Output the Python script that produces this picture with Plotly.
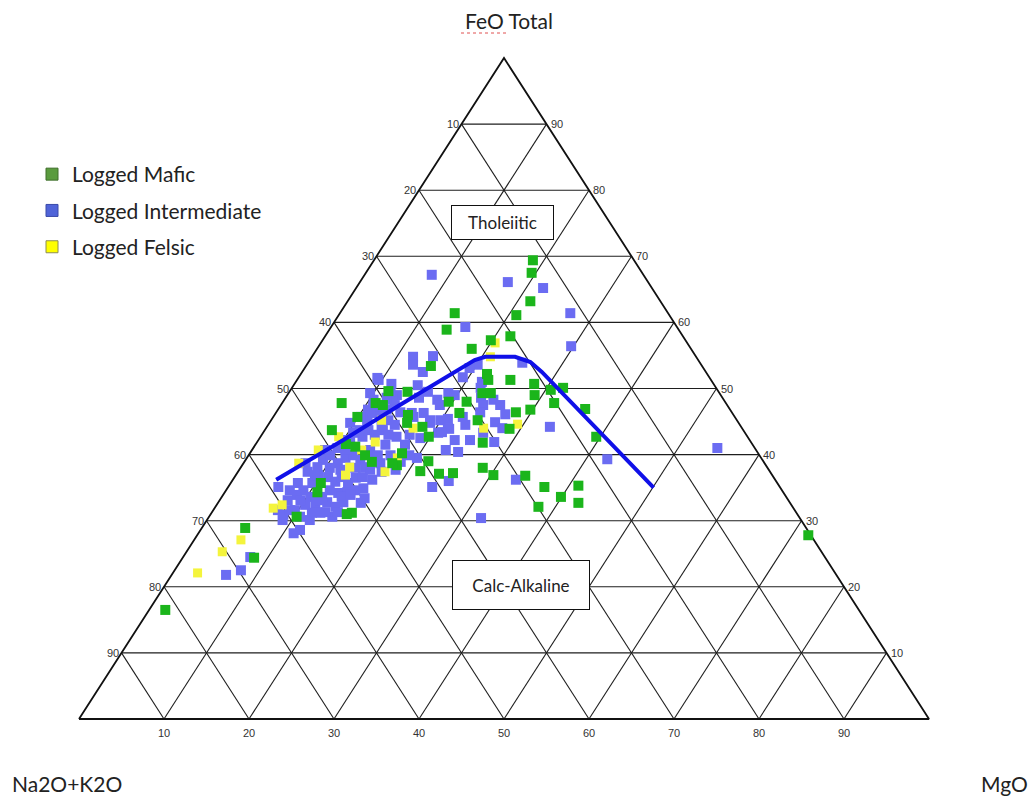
import plotly.graph_objects as go

# ---------------------------------------------------------------
# AFM samples: FeO(total) and MgO as % of the A+F+M sum
# (Na2O+K2O is the remainder to 100)
# ---------------------------------------------------------------
mafic_feo = [69.4, 67.5, 63.2, 61.1, 61.4, 58.9, 57.3, 57.9, 56.0, 53.4,
             52.2, 51.3, 51.3, 50.7, 49.0, 49.8, 50.1, 47.8, 48.0, 48.0,
             49.3, 46.4, 46.8, 46.3, 43.9, 46.9, 42.7, 38.0, 36.9, 36.8,
             35.1, 33.6, 35.3, 32.7, 32.1, 49.3, 41.8, 46.0, 44.2, 44.8,
             42.7, 45.2, 39.0, 37.5, 37.1, 37.2, 40.2, 38.4, 47.8, 47.8,
             47.5, 49.6, 49.5, 43.7, 45.7, 41.6, 41.2, 38.9, 35.7, 34.3,
             31.2, 31.0, 30.6, 38.7, 28.9, 24.4, 16.5, 27.8, 39.9]
mafic_mgo = [18.7, 19.5, 21.5, 20.9, 13.5, 13.8, 19.8, 21.8, 18.2, 14.7,
             21.9, 22.5, 25.1, 28.2, 29.1, 30.6, 31.9, 32.0, 19.5, 21.6,
             22.8, 28.2, 29.7, 21.6, 28.7, 36.1, 39.5, 28.5, 30.3, 34.1,
             37.2, 39.9, 41.1, 42.4, 38.0, 23.8, 26.6, 15.7, 18.3, 16.2,
             19.8, 24.3, 21.6, 21.4, 23.8, 25.4, 17.9, 18.2, 7.0, 11.0,
             12.0, 11.6, 13.9, 7.9, 9.9, 10.6, 11.9, 15.0, 10.6, 10.9,
             16.5, 16.0, 10.3, 17.5, 5.1, 8.4, 1.9, 71.9, 13.7]

inter_feo = [67.2, 66.1, 65.2, 61.4, 56.4, 59.3, 54.9, 54.8, 52.5, 51.7,
             53.6, 50.1, 48.6, 47.5, 46.4, 46.1, 53.9, 48.3, 44.9, 44.0,
             44.2, 39.3, 36.2, 41.0, 30.4, 43.3, 41.9, 44.5, 45.7, 45.4,
             43.9, 43.3, 44.8, 46.3, 45.7, 42.5, 40.7, 40.4, 36.0, 35.1,
             38.9, 39.5, 53.6, 51.3, 50.7, 49.0, 50.5, 49.5, 49.3, 53.1,
             51.0, 46.8, 45.2, 46.3, 45.2, 45.2, 44.0, 45.5, 44.2, 43.7,
             43.0, 42.7, 43.4, 48.3, 48.6, 47.5, 46.4, 49.3, 49.3, 48.3,
             48.3, 51.6, 48.6, 47.2, 45.7, 44.8, 41.0, 42.2, 43.3, 42.7,
             43.7, 43.0, 44.2, 43.0, 46.3, 45.7, 46.8, 46.8, 39.2, 39.9,
             38.7, 39.5, 39.9, 39.2, 38.1, 39.6, 38.7, 37.4, 39.9, 38.7,
             37.4, 38.1, 36.9, 36.6, 35.9, 36.6, 35.7, 36.5, 36.6, 36.2,
             34.6, 34.2, 34.3, 34.6, 34.9, 35.7, 34.6, 33.9, 35.1, 35.7,
             32.8, 32.1, 32.8, 32.4, 31.2, 31.2, 32.7, 31.6, 30.9, 31.6,
             32.4, 30.6, 33.6, 28.1, 28.6, 24.5, 22.5, 21.8,
             33.1, 33.1, 33.6, 33.6, 31.6, 30.6, 30.1, 31.3, 31.3, 34.6,
             36.9, 37.7, 38.0, 40.7, 40.7, 40.7, 41.5, 44.5, 43.7, 42.2,
             38.0, 33.1, 33.9, 33.4, 37.7, 39.9, 37.7, 41.5, 39.9, 42.2,
             42.2, 47.5, 49.0, 47.5, 30.1]
inter_mgo = [7.9, 17.4, 22.0, 27.1, 29.7, 15.8, 14.2, 11.9, 14.2, 19.3,
             20.1, 22.2, 23.0, 23.8, 24.0, 27.1, 25.2, 24.6, 26.5, 27.8,
             33.3, 42.5, 33.3, 54.6, 32.1, 25.9, 27.9, 23.2, 22.3, 20.7,
             21.6, 20.6, 18.9, 17.4, 16.5, 18.9, 22.8, 24.4, 25.5, 24.0,
             18.4, 20.0, 12.5, 9.6, 11.4, 12.9, 14.6, 16.3, 18.8, 19.4,
             21.9, 11.7, 13.8, 16.0, 18.7, 19.9, 21.4, 11.2, 11.8, 13.9,
             17.4, 16.0, 21.0, 18.0, 15.7, 13.4, 14.6, 12.0, 9.6, 10.5,
             12.7, 9.3, 11.9, 11.0, 10.3, 9.5, 9.9, 10.4, 10.6, 12.0,
             12.2, 13.3, 13.5, 14.9, 11.4, 12.6, 12.8, 10.6, 9.1, 9.6,
             11.1, 11.6, 12.3, 13.5, 14.6, 14.7, 16.1, 16.9, 16.7, 7.3,
             8.2, 9.0, 9.7, 11.0, 12.2, 12.6, 13.8, 14.3, 15.1, 16.4,
             12.2, 13.4, 14.4, 15.2, 16.0, 7.9, 9.1, 8.7, 5.9, 9.6,
             12.8, 14.1, 14.7, 11.6, 12.8, 11.8, 16.8, 7.6, 8.6, 9.6,
             10.4, 14.5, 14.1, 11.2, 11.7, 7.9, 7.8, 6.4,
             8.0, 9.5, 10.4, 11.8, 9.0, 10.7, 12.1, 13.3, 14.8, 7.5,
             9.3, 11.9, 13.5, 11.0, 8.6, 13.9, 15.3, 14.9, 11.2, 10.8,
             10.5, 11.8, 15.0, 16.9, 15.4, 15.2, 18.4, 17.6, 18.9, 23.1,
             24.9, 18.7, 19.7, 25.8, 8.9]

felsic_feo = [41.9, 40.7, 38.1, 36.9, 40.7, 38.7, 45.2, 37.4, 31.9, 44.0,
              42.7, 56.9, 54.8, 44.6, 44.0, 39.5, 27.1, 25.3, 22.1, 32.4]
felsic_mgo = [13.9, 12.9, 12.8, 12.9, 7.8, 6.5, 13.0, 17.3, 6.9, 17.3,
              9.2, 20.5, 21.0, 29.3, 25.6, 17.7, 5.5, 4.2, 2.9, 7.7]

# Tholeiitic / calc-alkaline boundary
divider_feo = [36.2, 42.2, 47.5, 52.2, 54.3, 54.8, 54.8, 54.0, 52.5, 35.0]
divider_mgo = [5.1, 10.0, 14.0, 17.6, 19.4, 20.4, 23.9, 26.1, 28.2, 50.1]

tick_values = [10, 20, 30, 40, 50, 60, 70, 80, 90]

# ---------------------------------------------------------------
# Page geometry (pixels) for the triangle
# ---------------------------------------------------------------
W, H = 1033, 802
LEFT_PX, BASE_PX = 79, 719          # Na2O+K2O corner
PX_PER_X, PX_PER_Y = 8.5, 6.61      # pixels per percent along x / height

GREEN = "#1bb51b"
BLUE = "#6b6cf2"
YELLOW = "#f4f43c"
FONT_TEXT = "Lato"
FONT_TICK = "Liberation Sans"


def to_xy(feo, mgo):
    """Ternary (FeO, MgO) -> planar coordinates (x along the base, y = FeO)."""
    xs = [m + f / 2.0 for f, m in zip(feo, mgo)]
    return xs, list(feo)


def alkalis(feo, mgo):
    return [round(100 - f - m, 1) for f, m in zip(feo, mgo)]


def px(x):
    return x / W


def py(y):
    return 1 - y / H


fig = go.Figure()

# grid lines parallel to each side
gx, gy = [], []
for t in tick_values:
    # constant FeO
    gx += [t / 2.0, 100 - t / 2.0, None]
    gy += [t, t, None]
    # constant MgO
    gx += [t, 50 + t / 2.0, None]
    gy += [0, 100 - t, None]
    # constant Na2O+K2O
    gx += [100 - t, (100 - t) / 2.0, None]
    gy += [0, 100 - t, None]
fig.add_trace(go.Scatter(x=gx, y=gy, mode="lines",
                         line=dict(color="#1e1e1e", width=1.1),
                         hoverinfo="skip", showlegend=False))

# outer triangle
fig.add_trace(go.Scatter(x=[0, 100, 50, 0], y=[0, 0, 100, 0], mode="lines",
                         line=dict(color="#111111", width=1.8),
                         hoverinfo="skip", showlegend=False))

# samples
series = [
    ("Logged Intermediate", inter_feo, inter_mgo, BLUE, 10),
    ("Logged Felsic", felsic_feo, felsic_mgo, YELLOW, 9),
    ("Logged Mafic", mafic_feo, mafic_mgo, GREEN, 10),
]
for name, feo, mgo, color, size in series:
    xs, ys = to_xy(feo, mgo)
    fig.add_trace(go.Scatter(
        x=xs, y=ys, mode="markers", name=name,
        marker=dict(symbol="square", size=size, color=color, line=dict(width=0)),
        customdata=list(zip(alkalis(feo, mgo), feo, mgo)),
        hovertemplate="Na2O+K2O %{customdata[0]}<br>FeO %{customdata[1]}"
                      "<br>MgO %{customdata[2]}<extra>" + name + "</extra>",
        showlegend=False))

# boundary line
dx, dy = to_xy(divider_feo, divider_mgo)
fig.add_trace(go.Scatter(x=dx, y=dy, mode="lines",
                         line=dict(color="#1010e8", width=4),
                         hoverinfo="skip", showlegend=False))

# legend swatches
legend_items = [
    ("Logged Mafic", "#5a9b3e", "#3f6f2b"),
    ("Logged Intermediate", "#5064d8", "#3a4aa8"),
    ("Logged Felsic", "#ffff00", "#8c8c55"),
]
for i, (name, fill, edge) in enumerate(legend_items):
    fig.add_trace(go.Scatter(
        x=[None], y=[None], mode="markers", name=name, legendgroup=str(i),
        marker=dict(symbol="square", size=12, color=fill,
                    line=dict(color=edge, width=1))))

annotations = []
tick_font = dict(family=FONT_TICK, size=11, color="#333333")
for t in tick_values:
    annotations.append(dict(x=t / 2.0, y=t, text=str(100 - t), showarrow=False,
                            xanchor="right", yanchor="middle", xshift=-1,
                            font=tick_font))
    annotations.append(dict(x=100 - t / 2.0, y=t, text=str(t), showarrow=False,
                            xanchor="left", yanchor="middle", xshift=2,
                            font=tick_font))
    annotations.append(dict(x=t, y=0, text=str(t), showarrow=False,
                            xanchor="center", yanchor="top", yshift=-6,
                            font=tick_font))

label_font = dict(family=FONT_TEXT, size=21, color="#222222")
annotations += [
    dict(xref="paper", yref="paper", x=px(509), y=py(20), text="FeO Total",
         showarrow=False, xanchor="center", yanchor="middle", font=label_font),
    dict(xref="paper", yref="paper", x=px(10), y=py(783), text="Na2O+K2O",
         showarrow=False, xanchor="left", yanchor="middle", font=label_font),
    dict(xref="paper", yref="paper", x=px(1030), y=py(783), text="MgO",
         showarrow=False, xanchor="right", yanchor="middle", font=label_font),
    dict(xref="paper", yref="paper", x=px(502.5), y=py(222.5), text="Tholeiitic",
         showarrow=False, xanchor="center", yanchor="middle",
         width=99, height=31, borderpad=1, bordercolor="#111111", borderwidth=1,
         bgcolor="white", font=dict(family=FONT_TEXT, size=17, color="#222222")),
    dict(xref="paper", yref="paper", x=px(521), y=py(585), text="Calc-Alkaline",
         showarrow=False, xanchor="center", yanchor="middle",
         width=134, height=46, borderpad=1, bordercolor="#111111", borderwidth=1,
         bgcolor="white", font=dict(family=FONT_TEXT, size=17, color="#222222")),
]

# spell-check underline beneath "FeO"
shapes = [dict(type="line", xref="paper", yref="paper",
               x0=px(461), x1=px(508), y0=py(33), y1=py(33),
               line=dict(color="#e05050", width=1, dash="dot"))]

fig.update_layout(
    width=W, height=H,
    margin=dict(l=0, r=0, t=0, b=0, pad=0),
    paper_bgcolor="white", plot_bgcolor="white",
    xaxis=dict(range=[(0 - LEFT_PX) / PX_PER_X, (W - LEFT_PX) / PX_PER_X],
               visible=False, fixedrange=True),
    yaxis=dict(range=[(BASE_PX - H) / PX_PER_Y, BASE_PX / PX_PER_Y],
               visible=False, fixedrange=True),
    showlegend=True,
    legend=dict(x=px(32), y=py(154), xanchor="left", yanchor="top",
                bgcolor="rgba(0,0,0,0)", tracegroupgap=6,
                font=dict(family=FONT_TEXT, size=21, color="#222222")),
    annotations=annotations,
    shapes=shapes,
)

fig.write_html("out.html")
